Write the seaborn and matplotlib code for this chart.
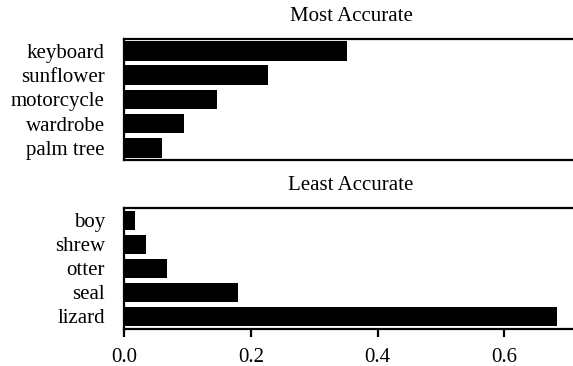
import matplotlib
matplotlib.use("Agg")
import matplotlib.pyplot as plt
import seaborn as sns
import pandas as pd

most_labels = ["keyboard", "sunflower", "motorcycle", "wardrobe", "palm tree"]
most_values = [0.351, 0.226, 0.146, 0.094, 0.059]
least_labels = ["boy", "shrew", "otter", "seal", "lizard"]
least_values = [0.017, 0.034, 0.067, 0.179, 0.683]
x_ticks = [0.0, 0.2, 0.4, 0.6]
titles = ["Most Accurate", "Least Accurate"]

sns.set_theme(style="white")
plt.rcParams["font.family"] = ["Liberation Serif", "DejaVu Serif"]
plt.rcParams["font.size"] = 15
for k in ["text.color", "axes.labelcolor", "xtick.color", "ytick.color", "axes.edgecolor"]:
    plt.rcParams[k] = "black"

fig = plt.figure(figsize=(5.73, 3.66), dpi=100)
W = 573.0
H = 366.0
left = 124.3 / W
right = 578.0 / W
ax1 = fig.add_axes([left, 1 - 160.0 / H, right - left, (160.0 - 38.7) / H])
ax2 = fig.add_axes([left, 1 - 328.5 / H, right - left, (328.5 - 208.3) / H])

for ax, labels, values, title in [
    (ax1, most_labels, most_values, titles[0]),
    (ax2, least_labels, least_values, titles[1]),
]:
    df = pd.DataFrame({"label": labels, "value": values})
    sns.barplot(data=df, x="value", y="label", orient="h", color="black",
                saturation=1, ax=ax, width=0.8, edgecolor="none", linewidth=0)
    ax.set_xlim(0, 0.716)
    ax.set_xlabel("")
    ax.set_ylabel("")
    ax.set_title(title, fontsize=15, pad=13, color="black")
    for s in ax.spines.values():
        s.set_visible(True)
        s.set_linewidth(1.6)
        s.set_color("black")
    ax.tick_params(axis="y", length=0, pad=14, labelsize=15, labelcolor="black")

ax1.set_xticks(x_ticks)
ax1.tick_params(axis="x", length=0, labelbottom=False)
ax2.set_xticks(x_ticks)
ax2.set_xticklabels([f"{t:.1f}" for t in x_ticks])
ax2.tick_params(axis="x", bottom=True, length=6, width=1.6, pad=8,
                labelsize=15, color="black", labelcolor="black", direction="out")

fig.savefig("out.png", dpi=100)
